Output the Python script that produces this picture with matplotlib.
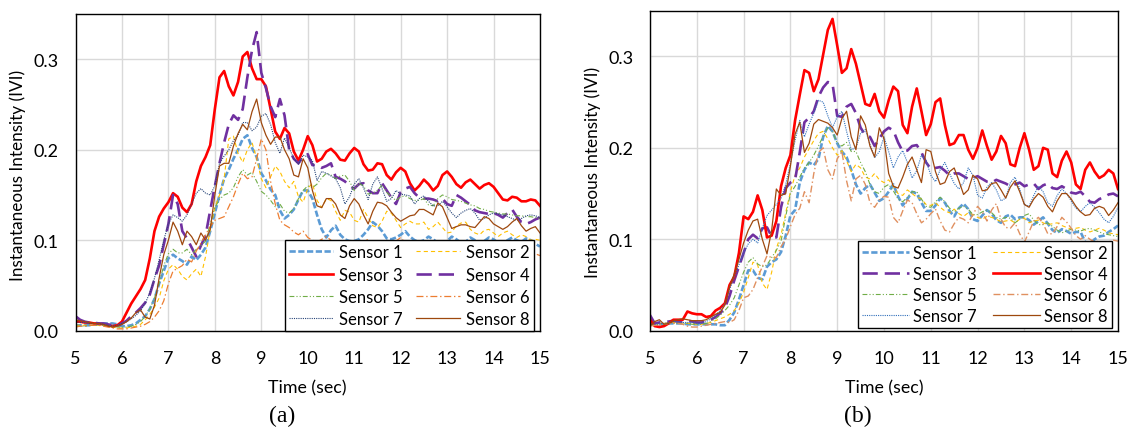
import numpy as np
import matplotlib
matplotlib.use("Agg")
import matplotlib.pyplot as plt

plt.rcParams['font.family'] = ['Lato', 'DejaVu Sans']
plt.rcParams['lines.scale_dashes'] = False

# ---------------- data ----------------
time = np.round(np.arange(5.0, 15.001, 0.1), 1)
sensor_names = ["Sensor 1", "Sensor 2", "Sensor 3", "Sensor 4",
                "Sensor 5", "Sensor 6", "Sensor 7", "Sensor 8"]
x_ticks = [5, 6, 7, 8, 9, 10, 11, 12, 13, 14, 15]
y_ticks = [0.0, 0.1, 0.2, 0.3]
y_tick_labels = ["0.0", "0.1", "0.2", "0.3"]

# Panel (a)
a_s1 = [.006, .006, .006, .006, .007, .007, .008, .008, .008, .007,
        .005, .005, .006, .008, .012, .016, .024, .035, .052, .066,
        .080, .084, .080, .077, .073, .082, .078, .084, .092, .110,
        .130, .150, .168, .178, .190, .200, .212, .216, .202, .192,
        .174, .166, .156, .150, .133, .124, .128, .134, .145, .155,
        .155, .146, .128, .112, .103, .111, .116, .106, .101, .099,
        .099, .101, .106, .112, .120, .116, .110, .102, .101, .103,
        .106, .110, .104, .100, .098, .100, .104, .101, .097, .096,
        .099, .104, .101, .097, .098, .103, .100, .096, .099, .103,
        .101, .097, .096, .100, .103, .100, .098, .102, .100, .096, .093]
a_s2 = [.006, .006, .006, .006, .006, .006, .006, .005, .004, .003,
        .003, .003, .004, .005, .007, .012, .018, .026, .036, .055,
        .068, .073, .068, .060, .056, .063, .068, .060, .082, .112,
        .136, .150, .168, .212, .215, .196, .186, .200, .208, .190,
        .168, .158, .170, .182, .176, .165, .158, .165, .148, .142,
        .157, .163, .144, .136, .146, .144, .132, .122, .133, .131,
        .122, .120, .134, .125, .116, .114, .121, .132, .130, .122,
        .114, .118, .121, .118, .118, .120, .112, .115, .120, .114,
        .108, .109, .116, .119, .120, .112, .108, .106, .111, .112,
        .108, .104, .108, .110, .106, .103, .106, .104, .100, .101, .100]
a_s3 = [.010, .010, .009, .009, .008, .008, .007, .006, .005, .006,
        .010, .020, .030, .038, .046, .056, .080, .110, .126, .135,
        .142, .152, .148, .136, .131, .140, .165, .182, .192, .205,
        .245, .280, .287, .270, .260, .275, .303, .308, .290, .278,
        .278, .270, .245, .220, .212, .224, .218, .198, .188, .200,
        .215, .205, .187, .190, .198, .201, .196, .189, .188, .196,
        .202, .198, .184, .177, .178, .185, .184, .172, .167, .175,
        .180, .176, .163, .155, .160, .167, .162, .155, .160, .172,
        .176, .170, .162, .158, .164, .167, .162, .157, .161, .163,
        .159, .152, .145, .144, .148, .147, .143, .143, .145, .144, .138]
a_s4 = [.016, .012, .010, .009, .009, .008, .008, .007, .006, .005,
        .008, .011, .016, .020, .025, .031, .040, .057, .072, .095,
        .118, .150, .140, .110, .102, .092, .082, .094, .105, .133,
        .160, .185, .208, .228, .238, .233, .245, .280, .310, .330,
        .285, .268, .248, .236, .256, .238, .200, .190, .185, .192,
        .195, .183, .183, .180, .182, .185, .170, .168, .165, .160,
        .157, .162, .163, .155, .152, .152, .163, .155, .147, .140,
        .153, .157, .159, .152, .147, .146, .146, .145, .143, .146,
        .140, .138, .150, .147, .143, .139, .133, .131, .130, .129,
        .130, .128, .125, .130, .134, .126, .120, .118, .120, .123, .125]
a_s5 = [.005, .005, .005, .006, .006, .006, .006, .006, .005, .004,
        .004, .004, .005, .007, .010, .016, .024, .036, .052, .072,
        .085, .090, .086, .086, .090, .084, .090, .094, .099, .118,
        .136, .145, .150, .152, .158, .170, .178, .172, .175, .165,
        .154, .150, .144, .137, .140, .132, .130, .135, .146, .155,
        .160, .158, .162, .169, .174, .172, .168, .171, .172, .165,
        .155, .163, .160, .151, .152, .155, .161, .153, .148, .144,
        .148, .149, .146, .144, .144, .146, .139, .138, .146, .150,
        .148, .145, .144, .143, .141, .139, .138, .135, .134, .132,
        .131, .130, .129, .129, .128, .127, .127, .126, .126, .125, .124]
a_s6 = [.004, .005, .005, .006, .006, .006, .005, .004, .003, .002,
        .002, .002, .003, .004, .005, .007, .010, .015, .022, .033,
        .052, .066, .069, .072, .079, .076, .088, .097, .106, .115,
        .122, .124, .126, .137, .148, .162, .174, .168, .170, .190,
        .212, .200, .165, .140, .122, .117, .114, .109, .106, .110,
        .103, .100, .098, .101, .104, .100, .095, .092, .096, .099,
        .097, .093, .098, .101, .096, .091, .094, .098, .095, .099,
        .103, .097, .092, .094, .097, .093, .090, .094, .097, .095,
        .091, .093, .096, .092, .089, .092, .095, .091, .088, .091,
        .093, .090, .087, .089, .092, .089, .086, .088, .087, .085, .083]
a_s7 = [.010, .009, .009, .008, .008, .008, .007, .006, .005, .006,
        .008, .010, .013, .017, .022, .030, .042, .058, .078, .100,
        .118, .128, .125, .121, .128, .140, .152, .157, .152, .150,
        .160, .185, .193, .200, .210, .216, .230, .230, .221, .225,
        .237, .240, .228, .208, .196, .213, .202, .190, .184, .194,
        .192, .188, .166, .176, .174, .171, .168, .158, .140, .148,
        .162, .168, .158, .145, .162, .170, .157, .143, .146, .155,
        .151, .150, .149, .140, .146, .149, .143, .138, .138, .143,
        .137, .130, .125, .130, .133, .135, .130, .122, .124, .128,
        .130, .129, .128, .126, .124, .122, .124, .127, .128, .127, .125]
a_s8 = [.012, .011, .010, .009, .008, .008, .007, .005, .004, .005,
        .007, .010, .014, .020, .023, .015, .013, .028, .058, .084,
        .100, .120, .110, .095, .110, .104, .095, .108, .100, .112,
        .150, .182, .185, .185, .204, .218, .228, .222, .242, .256,
        .230, .216, .206, .214, .214, .200, .190, .172, .170, .190,
        .180, .155, .138, .136, .146, .146, .140, .128, .124, .138,
        .146, .140, .128, .118, .132, .142, .141, .138, .131, .125,
        .121, .124, .127, .128, .134, .134, .131, .128, .141, .137,
        .125, .113, .115, .117, .117, .115, .114, .120, .126, .124,
        .118, .115, .112, .115, .120, .124, .116, .110, .113, .115, .108]

# Panel (b)
b_s1 = [.008, .007, .007, .007, .008, .008, .008, .008, .007, .007,
        .007, .007, .007, .007, .007, .006, .006, .012, .020, .034,
        .050, .066, .066, .058, .056, .070, .075, .078, .086, .104,
        .126, .132, .162, .176, .184, .181, .188, .212, .224, .218,
        .205, .196, .190, .176, .160, .150, .156, .160, .151, .142,
        .145, .152, .160, .147, .137, .144, .152, .150, .140, .131,
        .131, .137, .145, .140, .131, .125, .134, .139, .133, .122,
        .120, .126, .132, .128, .121, .118, .125, .127, .122, .124,
        .124, .121, .116, .120, .124, .117, .110, .107, .111, .109,
        .106, .108, .108, .097, .095, .100, .103, .104, .108, .111, .115]
b_s2 = [.007, .007, .008, .008, .009, .009, .009, .008, .008, .008,
        .007, .007, .008, .009, .011, .013, .015, .018, .022, .030,
        .042, .058, .075, .072, .052, .045, .064, .090, .105, .129,
        .152, .170, .178, .190, .199, .208, .216, .218, .210, .200,
        .192, .197, .186, .174, .182, .178, .168, .166, .172, .165,
        .162, .165, .158, .150, .148, .154, .150, .146, .144, .138,
        .137, .140, .135, .131, .129, .133, .128, .125, .129, .127,
        .124, .122, .125, .124, .122, .119, .120, .121, .118, .122,
        .123, .118, .120, .121, .118, .116, .117, .118, .115, .113,
        .111, .112, .113, .110, .108, .110, .112, .110, .107, .106, .105]
b_s3 = [.017, .008, .009, .010, .010, .011, .010, .010, .011, .010,
        .009, .009, .010, .012, .015, .019, .025, .038, .055, .070,
        .085, .100, .105, .101, .112, .113, .103, .102, .135, .156,
        .162, .165, .195, .228, .233, .240, .256, .266, .272, .270,
        .235, .234, .245, .248, .238, .222, .214, .212, .202, .210,
        .218, .222, .219, .206, .196, .197, .202, .203, .195, .184,
        .177, .178, .179, .175, .170, .172, .172, .169, .166, .167,
        .169, .166, .163, .162, .165, .163, .161, .158, .160, .162,
        .158, .160, .161, .155, .159, .161, .156, .155, .158, .155,
        .151, .150, .152, .147, .141, .140, .144, .146, .149, .150, .147]
b_s4 = [.012, .005, .004, .005, .008, .012, .012, .012, .021, .019,
        .018, .018, .015, .016, .022, .025, .030, .050, .059, .085,
        .125, .122, .130, .148, .132, .102, .104, .120, .158, .178,
        .192, .230, .258, .285, .282, .262, .275, .302, .329, .341,
        .312, .282, .287, .308, .292, .270, .248, .246, .259, .240,
        .233, .252, .267, .262, .225, .216, .245, .265, .240, .214,
        .226, .250, .254, .225, .203, .205, .214, .214, .198, .188,
        .200, .219, .202, .187, .196, .213, .205, .182, .180, .200,
        .216, .198, .176, .180, .200, .198, .172, .168, .186, .196,
        .184, .160, .155, .176, .184, .174, .167, .170, .176, .172, .155]
b_s5 = [.006, .006, .007, .007, .008, .008, .008, .008, .008, .007,
        .007, .007, .008, .010, .013, .017, .022, .028, .036, .050,
        .064, .075, .080, .073, .070, .072, .080, .088, .098, .125,
        .150, .158, .168, .178, .184, .192, .202, .213, .222, .218,
        .205, .202, .206, .196, .196, .184, .174, .160, .152, .150,
        .157, .160, .153, .144, .141, .146, .152, .152, .144, .136,
        .135, .141, .146, .141, .134, .130, .134, .136, .133, .127,
        .127, .130, .132, .129, .124, .122, .124, .123, .118, .122,
        .126, .128, .121, .116, .116, .118, .114, .110, .107, .109,
        .111, .110, .109, .111, .112, .110, .108, .106, .105, .104, .103]
b_s6 = [.005, .006, .006, .007, .008, .008, .008, .007, .005, .004,
        .004, .005, .006, .007, .008, .009, .010, .009, .012, .022,
        .036, .038, .045, .058, .070, .082, .080, .080, .092, .100,
        .114, .127, .134, .152, .140, .172, .195, .200, .176, .166,
        .188, .196, .164, .142, .166, .170, .160, .140, .135, .143,
        .147, .146, .124, .118, .131, .143, .140, .128, .118, .122,
        .128, .133, .120, .110, .108, .117, .124, .122, .118, .127,
        .136, .130, .120, .132, .139, .122, .113, .112, .118, .106,
        .097, .108, .120, .124, .117, .106, .106, .114, .124, .119,
        .112, .104, .100, .104, .100, .097, .098, .095, .097, .099, .098]
b_s7 = [.008, .007, .008, .008, .009, .010, .010, .009, .009, .009,
        .008, .008, .010, .013, .017, .022, .030, .045, .058, .072,
        .085, .095, .100, .096, .112, .126, .132, .138, .145, .160,
        .183, .208, .230, .212, .226, .238, .252, .250, .235, .222,
        .234, .240, .218, .198, .200, .216, .220, .204, .189, .196,
        .212, .196, .178, .190, .197, .184, .167, .175, .192, .186,
        .170, .163, .176, .184, .172, .161, .155, .162, .178, .170,
        .148, .145, .157, .162, .154, .142, .145, .162, .168, .155,
        .138, .136, .148, .158, .152, .140, .136, .148, .155, .150,
        .142, .134, .130, .136, .140, .135, .129, .122, .118, .125, .135]
b_s8 = [.005, .010, .012, .007, .008, .011, .012, .013, .012, .011,
        .011, .011, .012, .015, .018, .020, .028, .048, .062, .078,
        .096, .110, .120, .122, .100, .084, .110, .155, .148, .150,
        .180, .215, .228, .195, .205, .226, .231, .229, .227, .222,
        .214, .232, .240, .212, .198, .235, .225, .202, .190, .222,
        .210, .172, .158, .156, .168, .182, .190, .176, .162, .198,
        .196, .174, .160, .162, .174, .178, .164, .149, .154, .170,
        .166, .153, .154, .161, .162, .154, .145, .157, .164, .152,
        .138, .135, .144, .150, .146, .136, .130, .142, .150, .150,
        .144, .136, .130, .126, .127, .134, .136, .134, .126, .132, .140]

panel_a = [a_s1, a_s2, a_s3, a_s4, a_s5, a_s6, a_s7, a_s8]
panel_b = [b_s1, b_s2, b_s3, b_s4, b_s5, b_s6, b_s7, b_s8]

# ---------------- styles ----------------
RED = dict(color='#FF0000', lw=1.9, ls='-')
PURPLE = dict(color='#7030A0', lw=1.9, dashes=(11, 5))
styles_a = [
    dict(color='#5B9BD5', lw=1.9, dashes=(4.5, 1.8)),
    dict(color='#FFC000', lw=0.8, dashes=(3.0, 2.2)),
    RED,
    PURPLE,
    dict(color='#70AD47', lw=0.8, dashes=(3.5, 1.5, 0.8, 1.5, 0.8, 1.5)),
    dict(color='#ED7D31', lw=0.9, dashes=(5, 2, 1, 2)),
    dict(color='#264478', lw=0.8, dashes=(0.8, 0.8)),
    dict(color='#9E480E', lw=0.9, ls='-'),
]
styles_b = list(styles_a)
styles_b[2] = PURPLE
styles_b[3] = RED
styles_b[5] = dict(color='#E09060', lw=1.0, dashes=(5, 2, 1, 2))
styles_b[6] = dict(color='#2F6EBA', lw=0.8, dashes=(0.8, 0.8))

W, H = 1129, 431
fig = plt.figure(figsize=(W / 100, H / 100), dpi=100)


def make_panel(rect, data, styles, leg_anchor, leg_kw, ylab_x, ylab_y, xlab_x):
    ax = fig.add_axes(rect)
    for vals, st, name in zip(data, styles, sensor_names):
        ax.plot(time, vals, label=name, **st)
    ax.set_xlim(5, 15)
    ax.set_ylim(0, 0.35)
    ax.set_xticks(x_ticks)
    ax.set_yticks(y_ticks)
    ax.set_yticklabels(y_tick_labels)
    ax.tick_params(axis='both', length=0, labelsize=13)
    ax.tick_params(axis='x', pad=14)
    ax.tick_params(axis='y', pad=12)
    ax.grid(True, color='#D9D9D9', lw=1.0)
    ax.set_axisbelow(True)
    for sp in ax.spines.values():
        sp.set_color('black')
        sp.set_linewidth(1.0)
    handles, labels = ax.get_legend_handles_labels()
    order = [0, 2, 4, 6, 1, 3, 5, 7]
    leg = ax.legend([handles[i] for i in order], [labels[i] for i in order],
                    ncol=2, loc='lower right', bbox_to_anchor=leg_anchor,
                    fontsize=12, frameon=True, fancybox=False, framealpha=1,
                    edgecolor='black', borderpad=0.25, borderaxespad=0,
                    **leg_kw)
    leg.get_frame().set_linewidth(1.0)
    fig.text(ylab_x / W, 1 - ylab_y / H, 'Instantaneous Intensity (IVI)',
             rotation=90, ha='center', va='center', fontsize=12.3)
    fig.text(xlab_x / W, 1 - 388 / H, 'Time (sec)', ha='center', va='center',
             fontsize=12.8)
    return ax


rect_a = [75.5 / W, 1 - 331.7 / H, (540 - 75.5) / W, (331.7 - 15) / H]
rect_b = [650 / W, 1 - 331.7 / H, (1118 - 650) / W, (331.7 - 11.7) / H]
leg_a = dict(handlelength=2.6, handletextpad=0.4, columnspacing=0.8,
             labelspacing=0.38)
leg_b = dict(handlelength=2.8, handletextpad=0.25, columnspacing=1.0,
             labelspacing=0.3)
make_panel(rect_a, panel_a, styles_a, (0.987, -0.002), leg_a, 18, 175, 307)
make_panel(rect_b, panel_b, styles_b, (0.9865, 0.0075), leg_b, 593, 172, 884)

fig.text(282 / W, 1 - 416 / H, '(a)', ha='center', va='center', fontsize=17,
         family='Liberation Serif')
fig.text(858 / W, 1 - 416 / H, '(b)', ha='center', va='center', fontsize=17,
         family='Liberation Serif')

fig.savefig('out.png', dpi=100)
